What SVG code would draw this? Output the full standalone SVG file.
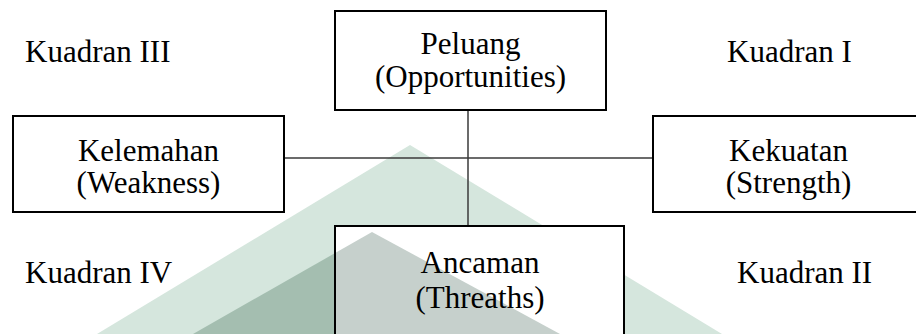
<svg xmlns="http://www.w3.org/2000/svg" width="916" height="334" viewBox="0 0 916 334">
<style>
.box{fill:#fff;stroke:#000;stroke-width:2}
.t{font-family:"Liberation Serif","Times New Roman",serif;font-size:31px;fill:#000}
.c{text-anchor:middle}
.conn{stroke:#3a3a3a;stroke-width:1.5;fill:none}
</style>
<defs>
<clipPath id="inBottom"><rect x="336" y="227" width="287" height="120"/></clipPath>
</defs>
<rect width="916" height="334" fill="#fff"/>
<g id="watermark">
<polygon points="410,145 722,334 97,334" fill="#d5e6dd"/>
<polygon points="372,232 560,334 193,334" fill="#a4beb0"/>
</g>
<g id="connectors">
<line class="conn" x1="284" y1="158" x2="653" y2="158"/>
<line class="conn" x1="468" y1="110" x2="468" y2="226"/>
</g>
<g id="peluang">
<rect class="box" x="335" y="11" width="271" height="99"/>
<text class="t c" x="470.5" y="54">Peluang</text>
<text class="t c" x="470.5" y="87">(Opportunities)</text>
</g>
<g id="kelemahan">
<rect class="box" x="13" y="116" width="271" height="96"/>
<text class="t c" x="148.5" y="161">Kelemahan</text>
<text class="t c" x="148.5" y="193">(Weakness)</text>
</g>
<g id="kekuatan">
<rect class="box" x="653" y="116" width="272" height="96"/>
<text class="t c" x="788.5" y="161">Kekuatan</text>
<text class="t c" x="788.5" y="193">(Strength)</text>
</g>
<g id="ancaman">
<rect class="box" x="335" y="226" width="289" height="130"/>
<polygon points="372,232 560,334 193,334" fill="#c6d0cc" clip-path="url(#inBottom)"/>
<text class="t c" x="480" y="273">Ancaman</text>
<text class="t c" x="480" y="308">(Threaths)</text>
</g>
<g id="quadrants">
<text class="t" x="25" y="62">Kuadran III</text>
<text class="t" x="727" y="62">Kuadran I</text>
<text class="t" x="25" y="283">Kuadran IV</text>
<text class="t" x="737" y="283">Kuadran II</text>
</g>
</svg>
